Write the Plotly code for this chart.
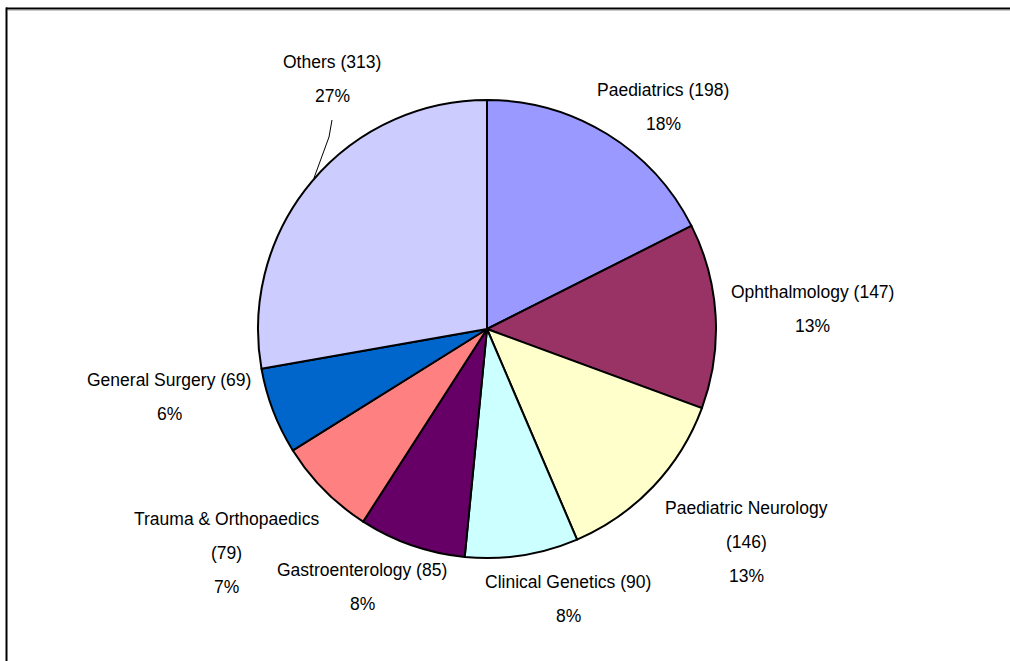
import plotly.graph_objects as go

W, H = 1010, 661

# ── data ─────────────────────────────────────────────────────────────────────
specialties = ["Paediatrics", "Ophthalmology", "Paediatric Neurology",
               "Clinical Genetics", "Gastroenterology", "Trauma & Orthopaedics",
               "General Surgery", "Others"]
referrals = [198, 147, 146, 90, 85, 79, 69, 313]
pct_labels = ["18%", "13%", "13%", "8%", "8%", "7%", "6%", "27%"]
colors = ["#9999FF", "#993366", "#FFFFCC", "#CCFFFF",
          "#660066", "#FF8080", "#0066CC", "#CCCCFF"]

# label text lines per slice (Excel-style wrapped labels)
wrapped = {"Paediatric Neurology", "Trauma & Orthopaedics"}
label_lines = []
for name, v, pct in zip(specialties, referrals, pct_labels):
    if name in wrapped:
        label_lines.append([name, f"({v})", pct])
    else:
        label_lines.append([f"{name} ({v})", pct])

# label anchor (centre x, first-line y) in pixels, same order as data
label_pos = [(663, 90), (812, 292), (746, 508), (568, 582),
             (362, 570), (226, 519), (169, 380), (332, 62)]
LINE_GAP = 34


def px(x, y):
    return x / W, 1 - y / H


# pie geometry (pixels)
cx, cy, r = 487, 329, 229

fig = go.Figure(go.Pie(
    labels=specialties,
    values=referrals,
    sort=False,
    direction="clockwise",
    rotation=0,
    marker=dict(colors=colors, line=dict(color="#000000", width=2)),
    textinfo="none",
    hoverinfo="label+value+percent",
    domain=dict(x=[(cx - r) / W, (cx + r) / W],
                y=[1 - (cy + r) / H, 1 - (cy - r) / H]),
    showlegend=False,
))

annotations = []
for lines, (lx, ly) in zip(label_lines, label_pos):
    for i, t in enumerate(lines):
        ax, ay = px(lx, ly + i * LINE_GAP)
        annotations.append(dict(
            x=ax, y=ay, xref="paper", yref="paper", text=t, showarrow=False,
            xanchor="center", yanchor="middle",
            font=dict(family="Liberation Sans, Arial, sans-serif",
                      size=17.5, color="#000000"),
        ))

# leader line for "Others"
p1, p2, p3 = px(314, 178), px(329, 137), px(332, 120)
shapes = [
    dict(type="path", xref="paper", yref="paper",
         path=f"M {p1[0]},{p1[1]} L {p2[0]},{p2[1]} L {p3[0]},{p3[1]}",
         line=dict(color="#000000", width=1)),
    # chart frame (only top and left visible in the crop)
    dict(type="line", xref="paper", yref="paper",
         x0=6 / W, x1=1, y0=1 - 8.5 / H, y1=1 - 8.5 / H,
         line=dict(color="#000000", width=2)),
    dict(type="line", xref="paper", yref="paper",
         x0=8 / W, x1=1, y0=1 - 10.5 / H, y1=1 - 10.5 / H,
         line=dict(color="#C8C8C8", width=1)),
    dict(type="line", xref="paper", yref="paper",
         x0=6.5 / W, x1=6.5 / W, y0=0, y1=1 - 7.5 / H,
         line=dict(color="#000000", width=2)),
]

fig.update_layout(
    width=W, height=H,
    margin=dict(l=0, r=0, t=0, b=0),
    paper_bgcolor="#FFFFFF",
    plot_bgcolor="#FFFFFF",
    annotations=annotations,
    shapes=shapes,
)

# drop the default 8px body margin so the figure fills the window
fig.write_html("out.html",
               config={"displayModeBar": False},
               post_script="document.body.style.margin='0';"
                           "document.body.style.overflow='hidden';")
